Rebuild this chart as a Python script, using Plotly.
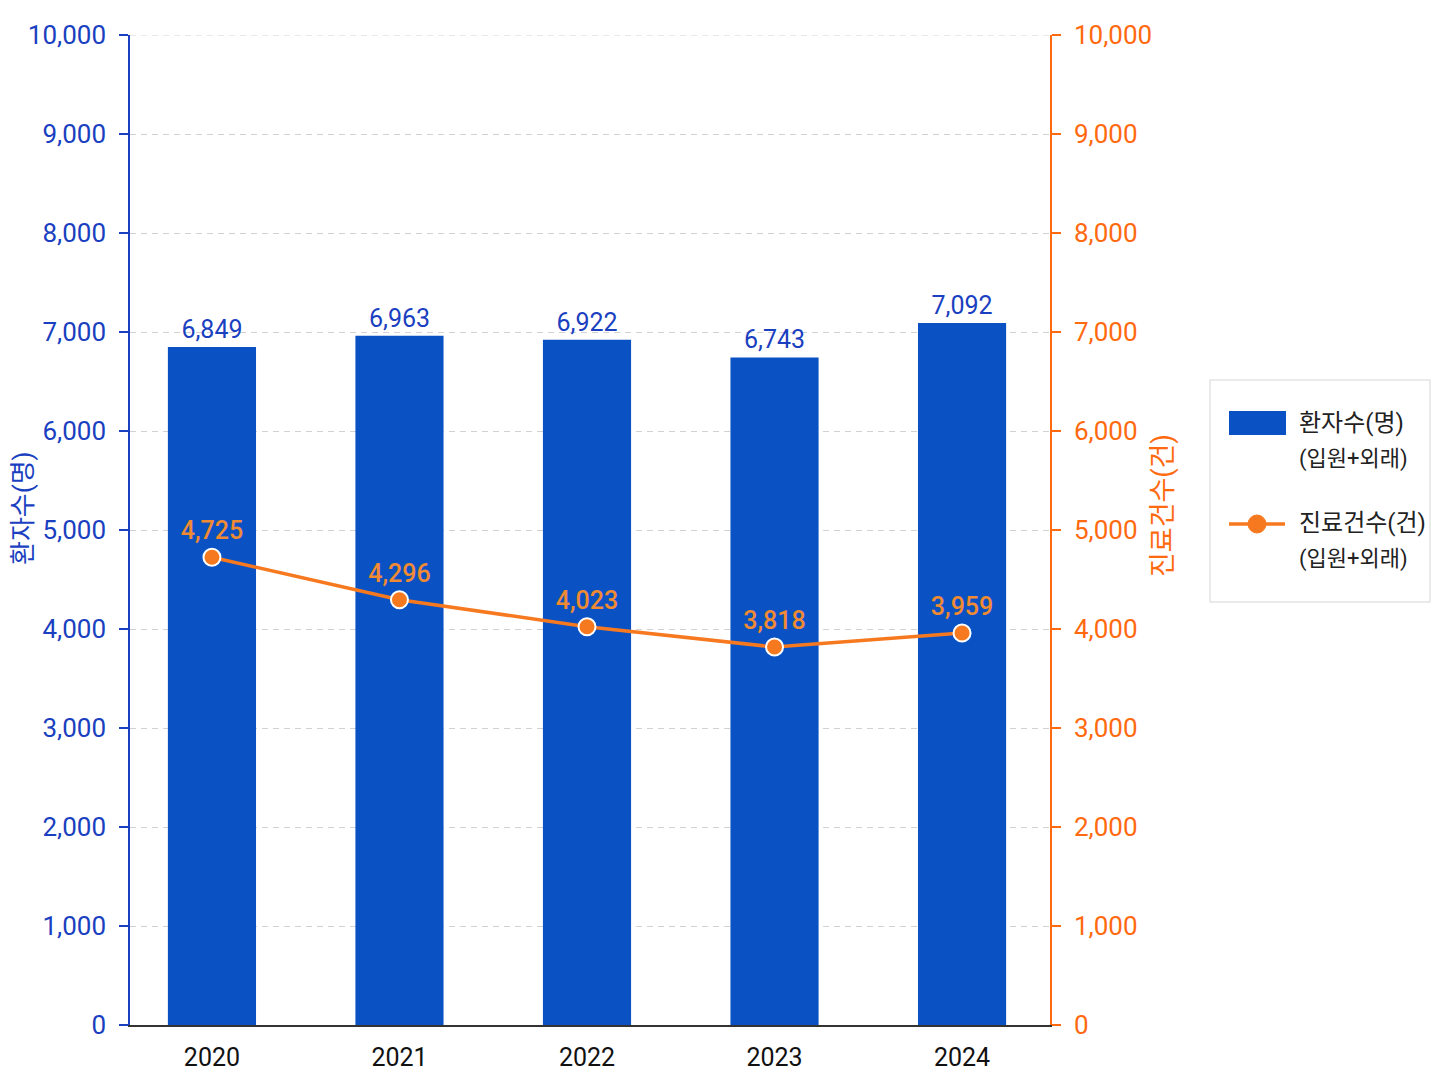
import plotly.graph_objects as go

years = ["2020", "2021", "2022", "2023", "2024"]
patients = [6849, 6963, 6922, 6743, 7092]
visits = [4725, 4296, 4023, 3818, 3959]
y_ticks = list(range(0, 10001, 1000))

bar_name = "환자수(명)"
line_name = "진료건수(건)"
sub_name = "(입원+외래)"

BLUE = "#0A52C4"
BLUE_TXT = "#1A3FC0"
ORANGE = "#F7791F"
ORANGE_TXT = "#F08A33"
ORANGE_AX = "#FF6A10"
GRID = "#D2D2D2"
FONT = "Roboto, 'Noto Sans CJK KR', sans-serif"

# page body has an 8px margin, so the figure is a bit smaller than the window
OFF = 8
W, H = 1432, 1070
L, T = 130 - OFF, 35 - OFF
R, B = W - (1050 - OFF), H - (1025 - OFF)
PW, PH = W - L - R, H - T - B


# window pixel -> paper coords (for the hand-drawn legend and titles)
def px(x):
    return (x - OFF - L) / PW


def py(y):
    return (H - B - (y - OFF)) / PH


fig = go.Figure()

fig.add_trace(go.Bar(
    x=years, y=patients,
    name=bar_name,
    marker=dict(color=BLUE, line=dict(width=0)),
    width=0.47,
    text=[f"{v:,}" for v in patients],
    textposition="outside",
    textfont=dict(color=BLUE_TXT, size=25),
    cliponaxis=False,
    showlegend=False,
))

fig.add_trace(go.Scatter(
    x=years, y=visits,
    name=line_name,
    yaxis="y2",
    mode="lines+markers+text",
    line=dict(color=ORANGE, width=3.5),
    marker=dict(color=ORANGE, size=17, line=dict(color="white", width=2)),
    text=[f"{v:,}" for v in visits],
    textposition="top center",
    textfont=dict(color=ORANGE_TXT, size=25, weight=500),
    cliponaxis=False,
    showlegend=False,
))

# top gridline (plotly drops the one at the range edge)
fig.add_shape(type="line", xref="paper", yref="y", x0=0, x1=1,
              y0=y_ticks[-1], y1=y_ticks[-1], layer="below",
              line=dict(color=GRID, width=1, dash="6px,5px"))

# legend box
fig.add_shape(type="rect", xref="paper", yref="paper",
              x0=px(1210), x1=px(1430), y0=py(602), y1=py(380),
              line=dict(color="#E3E3E3", width=1.5), fillcolor="white", layer="below")
fig.add_shape(type="rect", xref="paper", yref="paper",
              x0=px(1229), x1=px(1286), y0=py(435), y1=py(411),
              line=dict(width=0), fillcolor=BLUE)
fig.add_shape(type="line", xref="paper", yref="paper",
              x0=px(1229), x1=px(1285), y0=py(524), y1=py(524),
              line=dict(color=ORANGE, width=3.5))
fig.add_shape(type="circle", xref="paper", yref="paper",
              x0=px(1248), x1=px(1266), y0=py(533), y1=py(515),
              line=dict(color=ORANGE, width=1), fillcolor=ORANGE)

for name, yc in [(bar_name, 423), (line_name, 523)]:
    fig.add_annotation(xref="paper", yref="paper", x=px(1297), y=py(yc),
                       text=name, showarrow=False, xanchor="left", yanchor="middle",
                       font=dict(size=24, color="#222"))
    fig.add_annotation(xref="paper", yref="paper", x=px(1297), y=py(yc + 36),
                       text=sub_name, showarrow=False, xanchor="left", yanchor="middle",
                       font=dict(size=22, color="#222"))

# axis titles
fig.add_annotation(xref="paper", yref="paper", x=px(23), y=py(508),
                   text=bar_name, textangle=-90, showarrow=False,
                   xanchor="center", yanchor="middle",
                   font=dict(size=26, color=BLUE_TXT))
fig.add_annotation(xref="paper", yref="paper", x=px(1163), y=py(506),
                   text=line_name, textangle=-90, showarrow=False,
                   xanchor="center", yanchor="middle",
                   font=dict(size=27, color=ORANGE_AX))

fig.update_layout(
    width=W, height=H,
    margin=dict(l=L, r=R, t=T, b=B, autoexpand=False),
    paper_bgcolor="white",
    plot_bgcolor="white",
    font=dict(family=FONT, size=22, color="#222"),
    showlegend=False,
    xaxis=dict(
        type="category",
        range=[-0.437, 4.469],
        showline=True, linecolor="#333", linewidth=2,
        ticks="", tickfont=dict(size=25, color="#111"),
        ticklabelstandoff=9,
        showgrid=False, automargin=False,
    ),
    yaxis=dict(
        range=[0, 10000],
        tickvals=y_ticks,
        tickformat=",",
        showline=True, linecolor=BLUE_TXT, linewidth=1.5,
        ticks="outside", ticklen=9, tickcolor=BLUE_TXT, tickwidth=1.5,
        tickfont=dict(size=26, color=BLUE_TXT),
        ticklabelstandoff=8,
        gridcolor=GRID, griddash="6px,5px", gridwidth=1,
        zeroline=False, automargin=False,
    ),
    yaxis2=dict(
        range=[0, 10000],
        tickvals=y_ticks,
        tickformat=",",
        overlaying="y", side="right",
        showline=True, linecolor=ORANGE_AX, linewidth=1.5,
        ticks="outside", ticklen=9, tickcolor=ORANGE_AX, tickwidth=1.5,
        tickfont=dict(size=26, color=ORANGE_AX),
        ticklabelstandoff=8,
        showgrid=False, zeroline=False, automargin=False,
    ),
)

fig.write_html("out.html")
